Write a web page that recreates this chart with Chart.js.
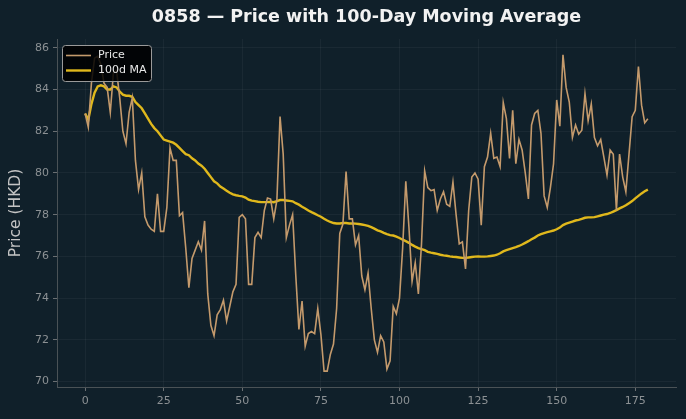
<!DOCTYPE html>
<html>
<head>
<meta charset="utf-8">
<script src="https://cdn.jsdelivr.net/npm/chart.js@4.4.1/dist/chart.umd.min.js"></script>
<style>
  html, body { margin: 0; padding: 0; background: #10202a; }
  #wrap { width: 686px; height: 419px; position: relative; }
</style>
</head>
<body>
<div id="wrap"><canvas id="priceChart" width="686" height="419"></canvas></div>
<script>
// daily close, day 0..179
var price = [
  82.85, 82.2, 84.3, 85.5, 85.6, 85.2, 84.3, 84.1, 82.9, 84.8,
  84.9, 83.6, 82.0, 81.4, 82.9, 83.6, 80.6, 79.2, 80.0, 77.9,
  77.5, 77.3, 77.2, 79.0, 77.2, 77.2, 78.35, 81.2, 80.6, 80.6,
  77.95, 78.1, 76.4, 74.5, 75.9, 76.3, 76.7, 76.3, 77.7, 74.2,
  72.7, 72.2, 73.2, 73.45, 73.9, 72.9, 73.6, 74.3, 74.66, 77.87,
  78.0, 77.8, 74.66, 74.66, 76.9, 77.15, 76.9, 78.2, 78.8, 78.75,
  77.8, 78.7, 82.7, 80.9, 76.9, 77.5, 78.0, 75.1, 72.5, 73.86,
  71.7, 72.3, 72.4, 72.3, 73.5, 72.25, 70.5, 70.5, 71.3, 71.8,
  73.5, 77.1, 77.55, 80.07, 77.8, 77.8, 76.55, 77.0, 75.06, 74.4,
  75.2, 73.5, 72.0, 71.4, 72.2, 71.9, 70.6, 71.0, 73.6, 73.25,
  74.0, 76.4, 79.6, 77.4, 74.8, 75.7, 74.2, 76.6, 80.1, 79.3,
  79.15, 79.2, 78.2, 78.75, 79.1, 78.5, 78.4, 79.56, 78.0, 76.6,
  76.7, 75.4, 78.2, 79.8, 80.0, 79.7, 77.5, 80.3, 80.76, 81.9,
  80.7, 80.76, 80.3, 83.37, 82.6, 80.7, 83.0, 80.44, 81.6, 81.1,
  80.0, 78.75, 82.3, 82.85, 83.0, 81.9, 78.9, 78.35, 79.3, 80.44,
  83.5, 82.24, 85.66, 84.1, 83.4, 81.7, 82.3, 81.86, 82.05, 83.8,
  82.5, 83.3, 81.7, 81.3, 81.6, 80.76, 79.9, 81.1, 80.9, 78.2,
  80.9, 79.8, 79.1, 80.9, 82.7, 83.0, 85.1, 83.25, 82.4, 82.6
];

// 100-day moving average as drawn
var ma100 = [
  82.85, 82.55, 83.3, 83.85, 84.15, 84.2, 84.15, 84.0, 84.0, 84.15,
  84.1, 83.9, 83.75, 83.7, 83.7, 83.65, 83.4, 83.25, 83.1, 82.85,
  82.6, 82.35, 82.15, 82.0, 81.8, 81.6, 81.55, 81.5, 81.45, 81.35,
  81.2, 81.05, 80.9, 80.85, 80.7, 80.6, 80.45, 80.35, 80.2, 80.0,
  79.8, 79.6, 79.5, 79.35, 79.25, 79.15, 79.05, 78.97, 78.93, 78.9,
  78.88, 78.82, 78.72, 78.67, 78.65, 78.62, 78.6, 78.6, 78.6, 78.62,
  78.6, 78.65, 78.7, 78.7, 78.68, 78.66, 78.64, 78.55, 78.48, 78.38,
  78.3, 78.2, 78.12, 78.05, 77.97, 77.9, 77.8, 77.72, 77.65, 77.6,
  77.58, 77.58, 77.6, 77.6, 77.58, 77.58, 77.57, 77.55, 77.53, 77.5,
  77.46, 77.4, 77.33, 77.25, 77.2, 77.13, 77.07, 77.02, 77.0, 76.95,
  76.88, 76.8, 76.73, 76.65, 76.55, 76.47, 76.4, 76.35, 76.3, 76.22,
  76.18, 76.15, 76.12, 76.08, 76.05, 76.03, 76.0, 75.98, 75.97, 75.95,
  75.93, 75.93, 75.95, 75.97, 75.99, 76.0, 75.99, 75.99, 76.0, 76.02,
  76.04, 76.08, 76.15, 76.24, 76.3, 76.35, 76.4, 76.44, 76.5, 76.57,
  76.65, 76.73, 76.82, 76.9, 77.0, 77.07, 77.12, 77.16, 77.2, 77.24,
  77.3, 77.38, 77.5, 77.57, 77.62, 77.67, 77.72, 77.75, 77.8, 77.85,
  77.87, 77.87, 77.88, 77.92, 77.96, 78.0, 78.03, 78.08, 78.15, 78.22,
  78.3, 78.37, 78.45, 78.55, 78.65, 78.78, 78.9, 79.02, 79.12, 79.2
];

var xTicks = [0, 25, 50, 75, 100, 125, 150, 175];
var yTicks = [70, 72, 74, 76, 78, 80, 82, 84, 86];

var priceColor = '#c49a6c';
var maColor = '#e0b81c';

function toPoints(arr) {
  return arr.map(function (v, i) { return { x: i, y: v }; });
}

// legend drawn inside the plot, top-left (like matplotlib)
var insideLegend = {
  id: 'insideLegend',
  afterDraw: function (chart) {
    var ctx = chart.ctx;
    var x0 = 62, y0 = 45, w = 89, h = 36;
    ctx.save();
    ctx.fillStyle = 'rgba(0,0,0,0.85)';
    ctx.strokeStyle = '#9a9a9a';
    ctx.lineWidth = 1;
    ctx.beginPath();
    ctx.roundRect(x0 + 0.5, y0 + 0.5, w, h, 3);
    ctx.fill();
    ctx.stroke();
    var rows = [
      { text: 'Price', color: priceColor, lw: 1.6, y: y0 + 10.5 },
      { text: '100d MA', color: maColor, lw: 2.4, y: y0 + 25.5 }
    ];
    ctx.font = '11px "DejaVu Sans"';
    ctx.textBaseline = 'middle';
    rows.forEach(function (r) {
      ctx.strokeStyle = r.color;
      ctx.lineWidth = r.lw;
      ctx.beginPath();
      ctx.moveTo(x0 + 4, r.y);
      ctx.lineTo(x0 + 29, r.y);
      ctx.stroke();
      ctx.fillStyle = '#e8e8e8';
      ctx.fillText(r.text, x0 + 36, r.y);
    });
    ctx.restore();
  }
};

var ctx = document.getElementById('priceChart').getContext('2d');
var chart = new Chart(ctx, {
  type: 'line',
  data: {
    datasets: [{
      label: 'Price',
      data: toPoints(price),
      borderColor: priceColor,
      borderWidth: 1.6,
      pointRadius: 0,
      tension: 0
    }, {
      label: '100d MA',
      data: toPoints(ma100),
      borderColor: maColor,
      borderWidth: 2.4,
      pointRadius: 0,
      tension: 0
    }]
  },
  plugins: [insideLegend],
  options: {
    responsive: false,
    animation: false,
    layout: { padding: { top: 2, right: 10, left: 0, bottom: 0 } },
    plugins: {
      legend: { display: false },
      tooltip: { enabled: false },
      title: {
        display: true,
        fullSize: false, // centre over the plot area, not the canvas
        text: '0858 — Price with 100-Day Moving Average',
        color: '#f2f2f2',
        font: { family: 'DejaVu Sans', size: 17.5, weight: 'bold' },
        padding: { top: 5, bottom: 11 }
      }
    },
    scales: {
      x: {
        type: 'linear',
        min: -8.95,
        max: 187.95,
        afterBuildTicks: function (scale) {
          scale.ticks = xTicks.map(function (v) { return { value: v }; });
        },
        afterFit: function (scale) { scale.height = 32; },
        ticks: {
          color: '#8c9194',
          font: { family: 'DejaVu Sans', size: 11 },
          padding: 4,
          maxRotation: 0
        },
        grid: {
          color: 'rgba(255,255,255,0.045)',
          tickColor: '#6a6f72',
          tickLength: 4
        },
        border: { color: '#4a5256', width: 1 }
      },
      y: {
        min: 69.74,
        max: 86.42,
        afterBuildTicks: function (scale) {
          scale.ticks = yTicks.map(function (v) { return { value: v }; });
        },
        afterFit: function (scale) { scale.width = 57; },
        title: {
          display: true,
          text: 'Price (HKD)',
          color: '#c4c4c4',
          font: { family: 'DejaVu Sans', size: 15.5 },
          padding: { top: 7, bottom: 2 }
        },
        ticks: {
          color: '#8c9194',
          font: { family: 'DejaVu Sans', size: 11 },
          padding: 4
        },
        grid: {
          color: 'rgba(255,255,255,0.045)',
          tickColor: '#6a6f72',
          tickLength: 4
        },
        border: { color: '#4a5256', width: 1 }
      }
    }
  }
});
</script>
</body>
</html>
